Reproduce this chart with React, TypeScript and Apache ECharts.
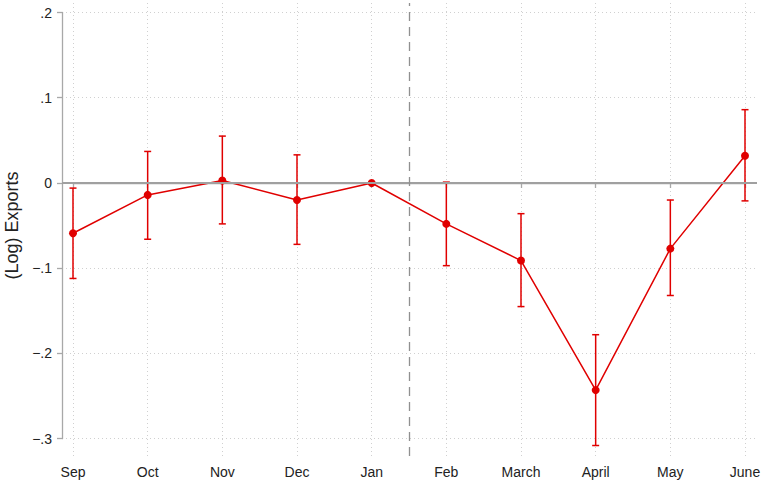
import React, { useEffect, useRef } from "react";
import * as echarts from "echarts";

const months = ["Sep", "Oct", "Nov", "Dec", "Jan", "Feb", "March", "April", "May", "June"];
const estimates = [-0.059, -0.014, 0.003, -0.02, 0.0, -0.048, -0.091, -0.243, -0.077, 0.032];
const ciLower = [-0.112, -0.066, -0.048, -0.072, null, -0.097, -0.145, -0.308, -0.132, -0.021];
const ciUpper = [-0.006, 0.037, 0.055, 0.033, null, 0.001, -0.036, -0.178, -0.02, 0.086];
const yTicks = { min: -0.3, max: 0.2, step: 0.1 };
const breakPosition = 4.5; // between Jan and Feb

const RED = "#e00000";
const AXIS_GRAY = "#a8a8a8";
const GRID_GRAY = "#d0d0d0";
const FONT = "'Liberation Sans', Arial, Helvetica, sans-serif";

function fmtTick(v: number): string {
  if (Math.abs(v) < 1e-9) return "0";
  const s = Math.abs(v).toFixed(1).replace(/^0/, "");
  return (v < 0 ? "\u2212" : "") + s;
}

export default function App() {
  const ref = useRef<HTMLDivElement>(null);
  useEffect(() => {
    if (!ref.current) return;
    const chart = echarts.init(ref.current, undefined, { renderer: "svg" });
    const errData = months
      .map((_, i) => (ciLower[i] == null ? null : [i, ciLower[i], ciUpper[i]]))
      .filter((d) => d !== null);

    chart.setOption({
      animation: false,
      textStyle: { fontFamily: FONT },
      grid: [
        { left: 73, right: 16, top: 12.5, bottom: 45.3, outerBoundsMode: "none", containLabel: false },
        { left: 62, right: 4, top: 12.5, bottom: 45.3, outerBoundsMode: "none", containLabel: false },
        { left: 73, right: 16, top: 3, bottom: 28, outerBoundsMode: "none", containLabel: false },
      ],
      xAxis: [
        {
          gridIndex: 0,
          type: "category",
          data: months,
          boundaryGap: false,
          offset: 19,
          axisLine: { show: true, lineStyle: { color: AXIS_GRAY, width: 1.3 } },
          axisTick: { show: true, length: 5, alignWithLabel: true, lineStyle: { color: AXIS_GRAY, width: 1.3 } },
          axisLabel: { color: "#222", fontSize: 14, margin: 7, fontFamily: FONT },
          splitLine: { show: false },
        },
        {
          gridIndex: 1,
          type: "value",
          min: 0,
          max: 1,
          show: false,
        },
        {
          gridIndex: 2,
          type: "value",
          min: 0,
          max: months.length - 1,
          interval: 1,
          axisLine: { show: false },
          axisTick: { show: false },
          axisLabel: { show: false },
          splitLine: { show: true, lineStyle: { color: GRID_GRAY, type: [1, 3], width: 1 } },
        },
      ],
      yAxis: [
        {
          gridIndex: 0,
          type: "value",
          min: yTicks.min,
          max: yTicks.max,
          interval: yTicks.step,
          offset: 11,
          name: "(Log) Exports",
          nameLocation: "middle",
          nameRotate: 90,
          nameGap: 37,
          nameTextStyle: { fontSize: 18, color: "#222", fontFamily: FONT },
          axisLine: { show: true, lineStyle: { color: AXIS_GRAY, width: 1.3 } },
          axisTick: { show: true, length: 5, lineStyle: { color: AXIS_GRAY, width: 1.3 } },
          axisLabel: { color: "#222", fontSize: 14, margin: 10, formatter: fmtTick, fontFamily: FONT },
          splitLine: { show: false },
        },
        {
          gridIndex: 1,
          type: "value",
          min: yTicks.min,
          max: yTicks.max,
          interval: yTicks.step,
          axisLine: { show: false },
          axisTick: { show: false },
          axisLabel: { show: false },
          splitLine: { show: true, lineStyle: { color: GRID_GRAY, type: [1, 3], width: 1 } },
        },
        {
          gridIndex: 2,
          type: "value",
          min: 0,
          max: 1,
          show: false,
        },
      ],
      series: [
        {
          type: "line",
          xAxisIndex: 1,
          yAxisIndex: 1,
          data: [],
          silent: true,
          markLine: {
            silent: true,
            symbol: "none",
            label: { show: false },
            lineStyle: { color: "#a0a0a0", type: "solid", width: 1.8 },
            data: [{ yAxis: 0 }],
          },
          z: 1,
        },
        {
          type: "line",
          xAxisIndex: 2,
          yAxisIndex: 2,
          data: [],
          silent: true,
          markLine: {
            silent: true,
            symbol: "none",
            label: { show: false },
            lineStyle: { color: "#909090", type: [9, 6], width: 1.3 },
            data: [{ xAxis: breakPosition }],
          },
          z: 1,
        },
        {
          type: "custom",
          xAxisIndex: 0,
          yAxisIndex: 0,
          clip: false,
          data: errData,
          z: 3,
          renderItem: (params: any, api: any) => {
            const x = api.value(0);
            const lo = api.coord([x, api.value(1)]);
            const hi = api.coord([x, api.value(2)]);
            const w = 3.5;
            const style = { stroke: RED, lineWidth: 1.5 };
            return {
              type: "group",
              children: [
                { type: "line", shape: { x1: lo[0], y1: lo[1], x2: hi[0], y2: hi[1] }, style },
                { type: "line", shape: { x1: hi[0] - w, y1: hi[1], x2: hi[0] + w, y2: hi[1] }, style },
                { type: "line", shape: { x1: lo[0] - w, y1: lo[1], x2: lo[0] + w, y2: lo[1] }, style },
              ],
            };
          },
        },
        {
          type: "line",
          xAxisIndex: 0,
          yAxisIndex: 0,
          data: estimates,
          clip: false,
          symbol: "circle",
          symbolSize: 8,
          showAllSymbol: true,
          lineStyle: { color: RED, width: 1.5 },
          itemStyle: { color: RED },
          z: 4,
        },
      ],
    });
    return () => chart.dispose();
  }, []);
  return (
    <div
      ref={ref}
      style={{ position: "fixed", left: 0, top: 0, width: 761, height: 484, background: "#fff" }}
    />
  );
}
